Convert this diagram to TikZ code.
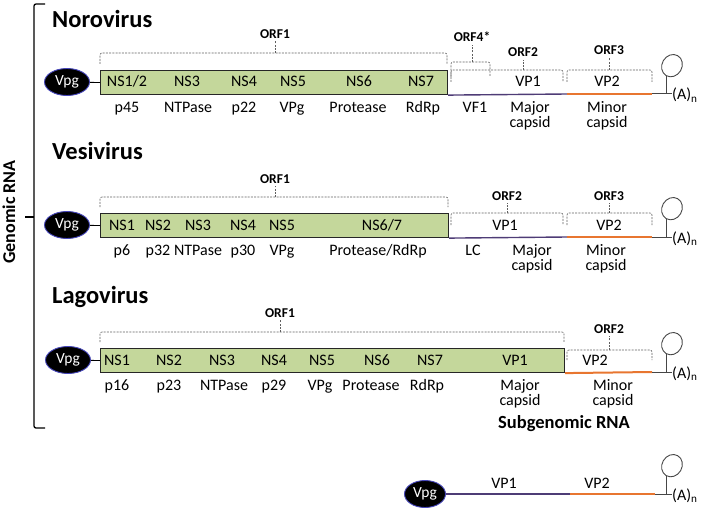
\documentclass[tikz,border=0pt]{standalone}
\usepackage{fontspec}
\setmainfont{Carlito}
\usetikzlibrary{shapes.geometric}

\begin{document}
\begin{tikzpicture}[x=1pt,y=-1pt,
    vpg/.style={ellipse,fill=black,draw=blue!45!gray,line width=0.9pt,text=white,
      minimum width=45pt,minimum height=27pt,inner sep=0pt,font=\fontsize{15.5}{15}\selectfont},
    gene/.style={draw=black!85,line width=1.1pt,fill=lgreen,inner sep=0pt,
      minimum height=24pt,anchor=north west},
    lbl/.style={font=\fontsize{16}{15}\selectfont,inner sep=0pt,align=center,anchor=base},
    lowlbl/.style={lbl,anchor=north,execute at begin node=\strut},
    orf/.style={font=\bfseries\fontsize{13.5}{13}\selectfont,inner sep=2.5pt,anchor=base},
    virus/.style={font=\bfseries\fontsize{24.5}{26}\selectfont,inner sep=0pt,anchor=base west},
    orfline/.style={orfgray,line width=0.6pt,dash pattern=on 2pt off 1.2pt,rounded corners=2pt},
    hairpin/.style={draw=tail,ellipse,line width=0.9pt,minimum width=20pt,minimum height=23pt,
      inner sep=0pt,rotate=-30,anchor=south},
    tailline/.style={tail,line width=1pt},
    vponeline/.style={vpone,line width=1.4pt},
    vptwoline/.style={vptwo,line width=2pt}]
  \definecolor{lgreen}{RGB}{196,215,155}
  \definecolor{vpone}{RGB}{78,60,118}
  \definecolor{vptwo}{RGB}{232,118,48}
  \definecolor{tail}{RGB}{70,70,70}
  \definecolor{orfgray}{RGB}{95,95,95}
  \newcommand{\orfbrace}[8]{% name, x from, x to, y top, y ends, x tick, y label, text
    \node[orf] (#1) at (#6,#7) {#8};
    \draw[orfline] (#2,#5) |- (#6,#4) coordinate (#1t) -| (#3,#5);
    \draw[orfline] (#1t) -- (#1.south);}
  \newcommand{\polyA}[2]{% name, y
    \coordinate (#1s) at (666,#2);
    \node[hairpin] (#1lp) at (666,#2-18) {};
    \node[lbl,anchor=base west] (#1a) at (672,#2+6) {(A)\textsubscript{n}};
    \draw[tailline] (#1o) -- (#1a.west |- #1s);
    \draw[tailline] (#1s) -- (#1lp.south);}
  \useasboundingbox (0,0) rectangle (708,513);

  % genomic RNA bracket
  \draw[line width=1.3pt,rounded corners=2pt] (45,4) -- (34,4) -- (34,428) -- (45,428);
  \coordinate (gb) at (34,217);
  \node[font=\bfseries\fontsize{18}{18}\selectfont,rotate=90,inner sep=0pt] (grna) at (9,212) {Genomic RNA};
  \draw[line width=1.1pt] (gb) -- (25,217);

  % Norovirus
  \node[virus] (noro) at (52,28) {Norovirus};
  \node[vpg] (nvpg) at (67,82) {Vpg};
  \node[gene,minimum width=347pt] (nbox) at (100,70) {};
  \draw[line width=0.9pt] (nvpg) -- (nbox.west);
  \foreach \x/\t [count=\i] in {127/{NS1/2},187/NS3,244/NS4,293/NS5,359/NS6,421/NS7,528/VP1,607/VP2}
    \node[lbl] (nin\i) at (\x,87) {\t};
  \foreach \x/\t [count=\i] in {127/p45,188/NTPase,244/p22,292/VPg,358/Protease,423/RdRp,
      475/VF1,530/{Major\\capsid},607/{Minor\\capsid}}
    \node[lowlbl] (nout\i) at (\x,101.5) {\t};
  \orfbrace{norfa}{100}{447}{53}{64}{275}{38.5}{ORF1}
  \orfbrace{norfd}{451}{490}{62}{77}{472}{42}{ORF4*}
  \orfbrace{norfb}{451}{563}{70}{82}{523}{57}{ORF2}
  \orfbrace{norfc}{567}{652}{70}{82}{609}{55}{ORF3}
  \coordinate (nj) at (567,94);
  \coordinate (no) at (652,94);
  \draw[vponeline] (nbox.south east) -- (nj);
  \draw[vptwoline] (nj) -- (no);
  \polyA{n}{94}

  % Vesivirus
  \node[virus] (vesi) at (52,159) {Vesivirus};
  \node[vpg] (vvpg) at (67,225) {Vpg};
  \node[gene,minimum width=348pt] (vbox) at (100,213) {};
  \draw[line width=0.9pt] (vvpg) -- (vbox.west);
  \foreach \x/\t [count=\i] in {122/NS1,158/NS2,198/NS3,243/NS4,282/NS5,382/{NS6/7},505/VP1,609/VP2}
    \node[lbl] (vin\i) at (\x,230) {\t};
  \foreach \x/\t [count=\i] in {122/p6,158/p32,198/NTPase,243/p30,282/VPg,378/{Protease/RdRp},
      473/LC,532/{Major\\capsid},606/{Minor\\capsid}}
    \node[lowlbl] (vout\i) at (\x,244.5) {\t};
  \orfbrace{vorfa}{100}{448}{197}{207}{275}{183}{ORF1}
  \orfbrace{vorfb}{451}{563}{213}{225}{507}{200}{ORF2}
  \orfbrace{vorfc}{567}{652}{213}{225}{609}{200}{ORF3}
  \coordinate (vj) at (567,237);
  \coordinate (vo) at (652,237);
  \draw[vponeline] (vbox.south east) -- (vj);
  \draw[vptwoline] (vj) -- (vo);
  \polyA{v}{237}

  % Lagovirus
  \node[virus] (lago) at (52,303) {Lagovirus};
  \node[vpg] (lvpg) at (68,360) {Vpg};
  \node[gene,minimum width=464pt] (lbox) at (100,348) {};
  \draw[line width=0.9pt] (lvpg) -- (lbox.west);
  \foreach \x/\t [count=\i] in {117/NS1,169/NS2,222/NS3,274/NS4,322/NS5,377/NS6,430/NS7,515/VP1,595/VP2}
    \node[lbl] (lin\i) at (\x,365) {\t};
  \foreach \x/\t [count=\i] in {117/p16,169/p23,224/NTPase,274/p29,320/VPg,371/Protease,427/RdRp,
      520/{Major\\capsid},613/{Minor\\capsid}}
    \node[lowlbl] (lout\i) at (\x,379.5) {\t};
  \orfbrace{lorfa}{100}{564}{332}{342}{280}{317}{ORF1}
  \orfbrace{lorfb}{567}{652}{350}{360}{609}{333}{ORF2}
  \coordinate (lo) at (652,372);
  \draw[vptwoline] (lbox.south east) -- (lo);
  \polyA{l}{372}

  % subgenomic RNA
  \node[font=\bfseries\fontsize{18.5}{18}\selectfont,inner sep=0pt,anchor=base] (sub) at (564,428) {Subgenomic RNA};
  \node[vpg,minimum width=41pt] (svpg) at (425,494) {Vpg};
  \coordinate (sj) at (570,494);
  \coordinate (so) at (655,494);
  \draw[vponeline] (svpg) -- (sj);
  \draw[vptwoline] (sj) -- (so);
  \node[lbl] (svpa) at (504,488) {VP1};
  \node[lbl] (svpb) at (597,488) {VP2};
  \polyA{s}{494}
\end{tikzpicture}
\end{document}
